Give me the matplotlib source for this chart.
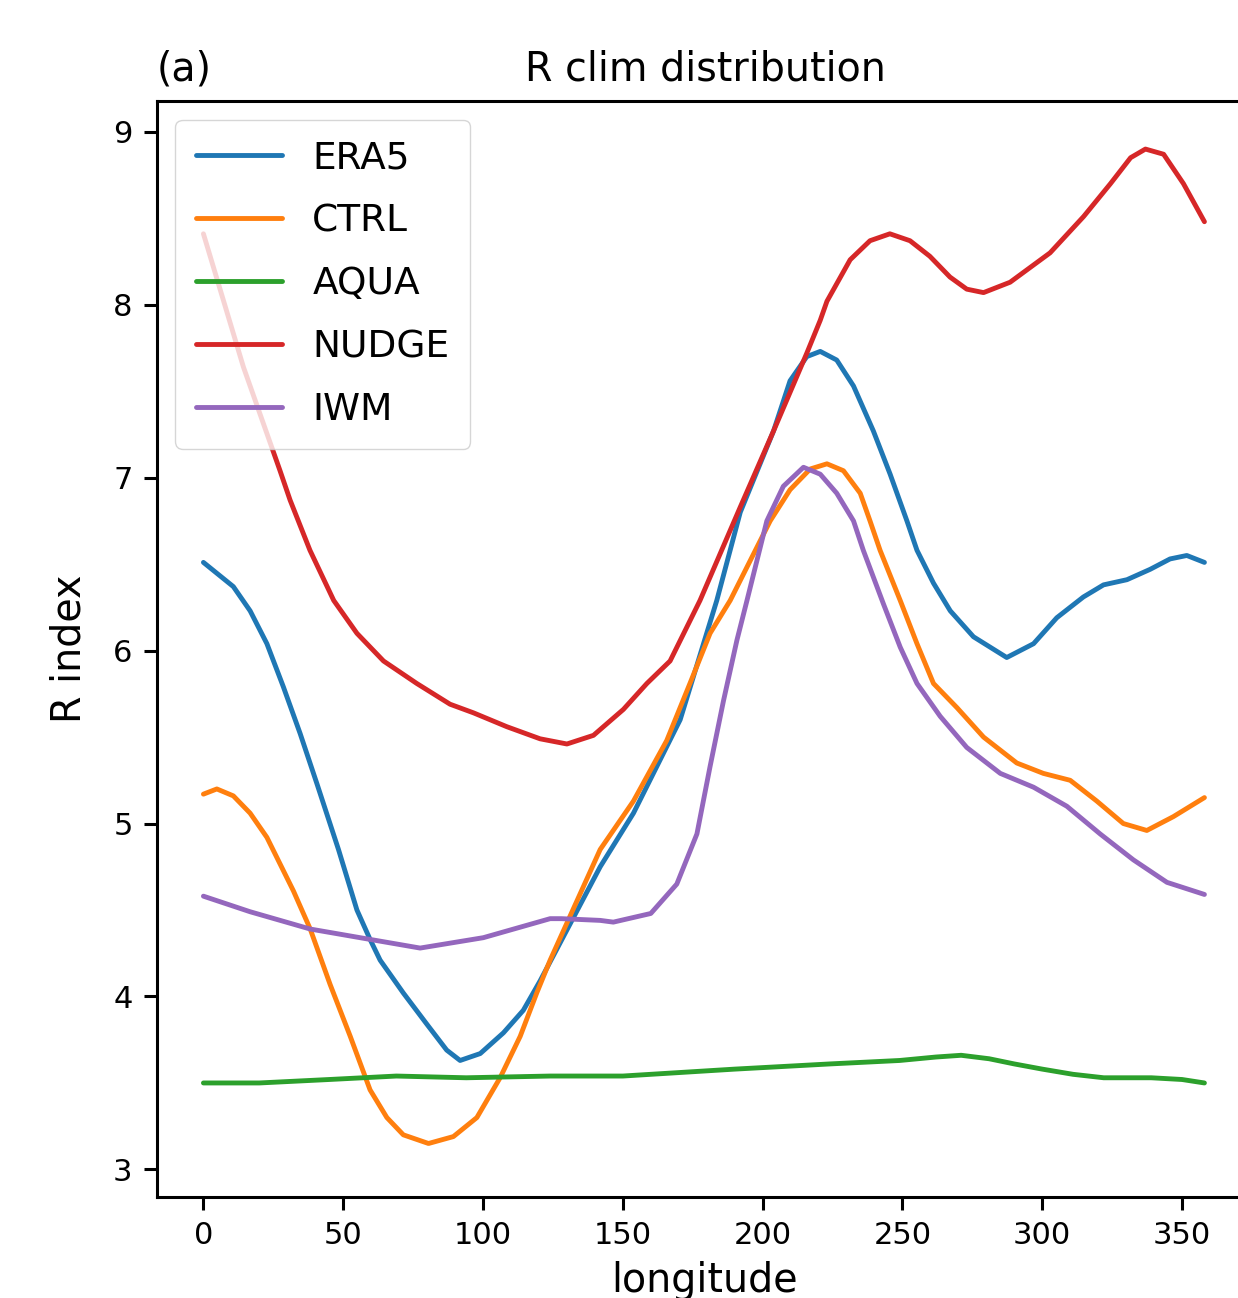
import numpy as np
import matplotlib
matplotlib.use("Agg")
import matplotlib.pyplot as plt

# values
era5_lon = [0, 10.7, 16.7, 22.7, 28.6, 34.6, 40.6, 48.3, 54.9, 59.6, 63.2, 71.5, 79.9, 87, 91.8,
            99, 107.3, 114.4, 120.4, 141.9, 153.8, 170.5, 183.6, 192, 203.9, 209.8, 215.8, 220.6,
            226.5, 232.5, 239.6, 245.6, 251.6, 255.2, 261.1, 267.1, 275.4, 287.3, 296.9, 305.2,
            314.7, 321.9, 330.3, 338.6, 345.7, 351.7, 358]
era5 = [6.51, 6.37, 6.23, 6.04, 5.79, 5.52, 5.23, 4.85, 4.50, 4.33, 4.21, 4.02, 3.84, 3.69, 3.63,
        3.67, 3.79, 3.92, 4.09, 4.75, 5.06, 5.60, 6.29, 6.80, 7.27, 7.56, 7.70, 7.73, 7.68, 7.53,
        7.27, 7.02, 6.75, 6.58, 6.39, 6.23, 6.08, 5.96, 6.04, 6.19, 6.31, 6.38, 6.41, 6.47, 6.53,
        6.55, 6.51]

ctrl_lon = [0, 4.8, 10.7, 16.7, 22.7, 32.2, 38.2, 45.3, 52.5, 59.6, 65.6, 71.5, 80.5, 89.4, 97.8,
            106.1, 113.3, 119.2, 124, 141.9, 153.8, 165.7, 174, 181.2, 188.4, 202.7, 209.8, 217,
            223, 228.9, 234.9, 238.4, 242, 249.2, 255.2, 261.1, 269.5, 279, 290.9, 300.4, 310,
            319.5, 329, 337.4, 346.9, 358]
ctrl = [5.17, 5.20, 5.16, 5.06, 4.92, 4.61, 4.39, 4.07, 3.77, 3.46, 3.30, 3.20, 3.15, 3.19, 3.30,
        3.53, 3.77, 4.02, 4.21, 4.85, 5.13, 5.48, 5.81, 6.10, 6.29, 6.75, 6.93, 7.05, 7.08, 7.04,
        6.91, 6.75, 6.58, 6.29, 6.04, 5.81, 5.67, 5.50, 5.35, 5.29, 5.25, 5.13, 5.00, 4.96, 5.04,
        5.15]

aqua_lon = [0, 20, 45, 69, 94, 124, 150, 170, 190, 224, 249, 262, 271, 281, 290, 300, 311, 322,
            339, 350, 358]
aqua = [3.50, 3.50, 3.52, 3.54, 3.53, 3.54, 3.54, 3.56, 3.58, 3.61, 3.63, 3.65, 3.66, 3.64, 3.61,
        3.58, 3.55, 3.53, 3.53, 3.52, 3.50]

nudge_lon = [0, 14.3, 27.4, 31, 38.1, 46.6, 54.9, 64.4, 76.3, 88.2, 96.6, 108.5, 120.4, 130,
             139.5, 150.2, 158.6, 166.9, 177.6, 192, 203.9, 215.8, 220.6, 223, 231.3, 238.4,
             245.5, 252.7, 259.8, 267, 273, 279, 288.5, 302.8, 314.8, 324.4, 331.6, 336.9, 343.4,
             350.5, 358]
nudge = [8.41, 7.64, 7.04, 6.87, 6.58, 6.29, 6.10, 5.94, 5.81, 5.69, 5.64, 5.56, 5.49, 5.46, 5.51,
         5.66, 5.81, 5.94, 6.29, 6.83, 7.27, 7.72, 7.91, 8.02, 8.26, 8.37, 8.41, 8.37, 8.28, 8.16,
         8.09, 8.07, 8.13, 8.30, 8.51, 8.70, 8.85, 8.90, 8.87, 8.70, 8.48]

iwm_lon = [0, 16.7, 38.2, 59.6, 77.5, 100.1, 124, 128, 141.9, 146.6, 160, 169.3, 176.5, 181.2, 186,
           190.8, 194.4, 201.5, 207.4, 214.6, 220.6, 226.5, 232.5, 236, 243.2, 249.2, 255.2,
           263.5, 273, 285, 296.9, 308.8, 320.7, 332.6, 344.6, 358]
iwm = [4.58, 4.49, 4.39, 4.33, 4.28, 4.34, 4.45, 4.45, 4.44, 4.43, 4.48, 4.65, 4.94, 5.33, 5.71,
       6.06, 6.29, 6.75, 6.95, 7.06, 7.02, 6.91, 6.75, 6.58, 6.27, 6.02, 5.81, 5.62, 5.44, 5.29,
       5.21, 5.10, 4.94, 4.79, 4.66, 4.59]

series = [("ERA5", era5_lon, era5), ("CTRL", ctrl_lon, ctrl), ("AQUA", aqua_lon, aqua),
          ("NUDGE", nudge_lon, nudge), ("IWM", iwm_lon, iwm)]

fig = plt.figure(figsize=(12.38, 12.98), dpi=100)
# the axes run past the right edge of the picture, as in the reference
ax = fig.add_axes([0.1266, 0.0780, 0.8858, 0.8442])

for name, lon, val in series:
    ax.plot(lon, val, lw=3.5, label=name, solid_joinstyle="round", solid_capstyle="round")

ax.set_xlim(-16.7, 375.5)
ax.set_ylim(2.842, 9.178)
ax.set_xticks(np.arange(0, 351, 50))
ax.set_yticks(np.arange(3, 10, 1))

for sp in ax.spines.values():
    sp.set_linewidth(2.2)
ax.tick_params(labelsize=22, length=9.4, width=2.2, pad=8)

ax.set_title("R clim distribution", fontsize=28.5, pad=15)
ax.set_title("(a)", loc="left", fontsize=28.5, pad=15)
ax.set_xlabel("longitude", fontsize=28.5, labelpad=8)
ax.set_ylabel("R index", fontsize=28.5, labelpad=17)

ax.legend(loc="upper left", fontsize=27, handlelength=2.3, labelspacing=0.72, borderpad=0.55)

fig.savefig("out.png", dpi=100)
